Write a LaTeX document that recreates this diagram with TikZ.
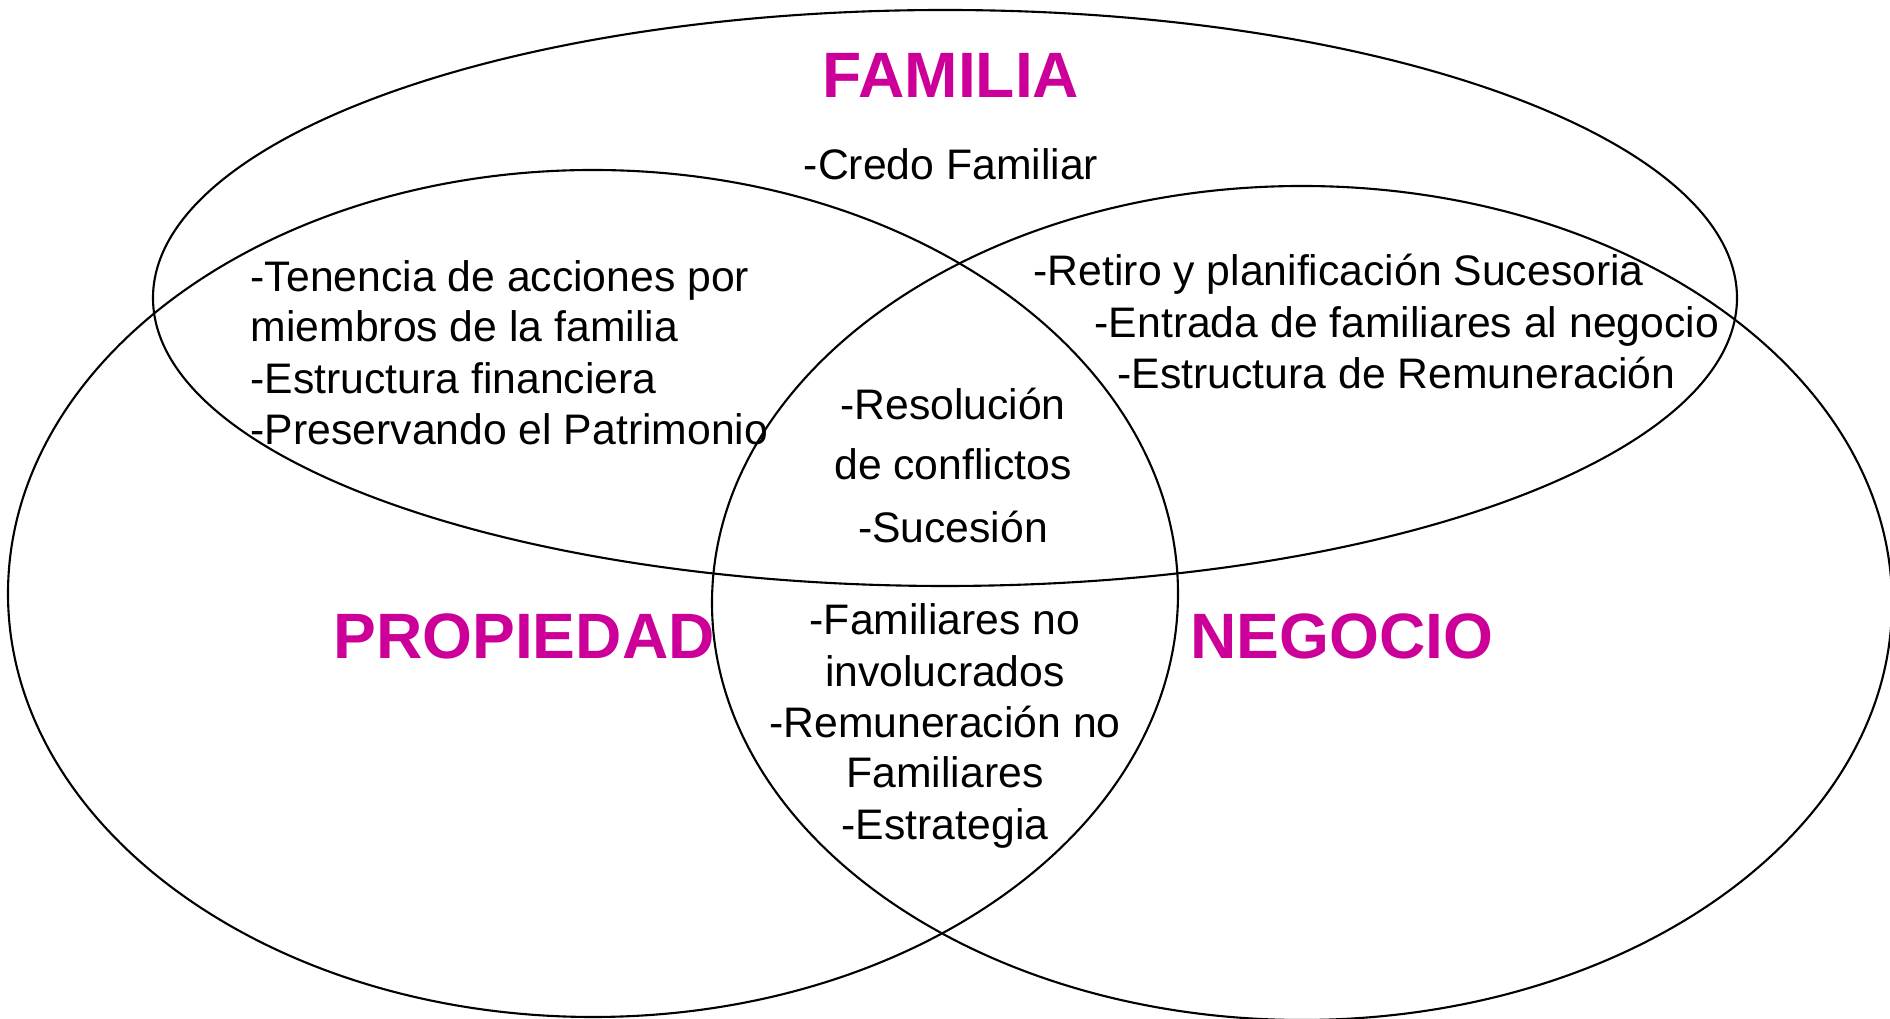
\documentclass[tikz,border=0pt]{standalone}
\usepackage{fontspec}
\setmainfont{Liberation Sans}
\definecolor{titlepink}{RGB}{204,0,153}
\tikzset{
  ring/.style={draw,line width=0.6pt},
  txt/.style={inner sep=0pt,font=\fontsize{12.15}{14.5}\selectfont},
  title/.style={inner sep=0pt,font=\fontsize{18.25}{22}\selectfont\bfseries,text=titlepink},
}
\begin{document}
\begin{tikzpicture}
\useasboundingbox (0,0) rectangle (18.9,10.19);
\clip (0,0) rectangle (18.9,10.19);
\draw[ring] (9.45,7.21) ellipse (7.92 and 2.88);
\draw[ring] (5.93,4.255) ellipse (5.85 and 4.235);
\draw[ring] (13.02,4.16) ellipse (5.90 and 4.17);
% titles
\node[title,anchor=base] (familia) at (9.51,9.21) {FAMILIA};
\node[title,anchor=base] (propiedad) at (5.24,3.60) {PROPIEDAD};
\node[title,anchor=base] (negocio) at (13.42,3.60) {NEGOCIO};
% familia
\node[txt,anchor=base] (credo) at (9.51,8.39) {-Credo Familiar};
% familia y propiedad
\node[txt,anchor=base west] (fp1) at (2.50,7.27) {-Tenencia de acciones por};
\node[txt,anchor=base west] (fp2) at (2.50,6.77) {miembros de la familia};
\node[txt,anchor=base west] (fp3) at (2.50,6.25) {-Estructura financiera};
\node[txt,anchor=base west] (fp4) at (2.50,5.74) {-Preservando el Patrimonio};
% familia y negocio
\node[txt,anchor=base west] (fn1) at (10.33,7.33) {-Retiro y planificación Sucesoria};
\node[txt,anchor=base west] (fn2) at (10.94,6.81) {-Entrada de familiares al negocio};
\node[txt,anchor=base west] (fn3) at (11.17,6.30) {-Estructura de Remuneración};
% las tres
\node[txt,anchor=base] (c1) at (9.53,5.99) {-Resolución};
\node[txt,anchor=base] (c2) at (9.53,5.39) {de conflictos};
\node[txt,anchor=base] (c3) at (9.53,4.76) {-Sucesión};
% propiedad y negocio
\node[txt,anchor=base] (pn1) at (9.45,3.84) {-Familiares no};
\node[txt,anchor=base] (pn2) at (9.45,3.32) {involucrados};
\node[txt,anchor=base] (pn3) at (9.45,2.81) {-Remuneración no};
\node[txt,anchor=base] (pn4) at (9.45,2.31) {Familiares};
\node[txt,anchor=base] (pn5) at (9.45,1.79) {-Estrategia};
\end{tikzpicture}
\end{document}
